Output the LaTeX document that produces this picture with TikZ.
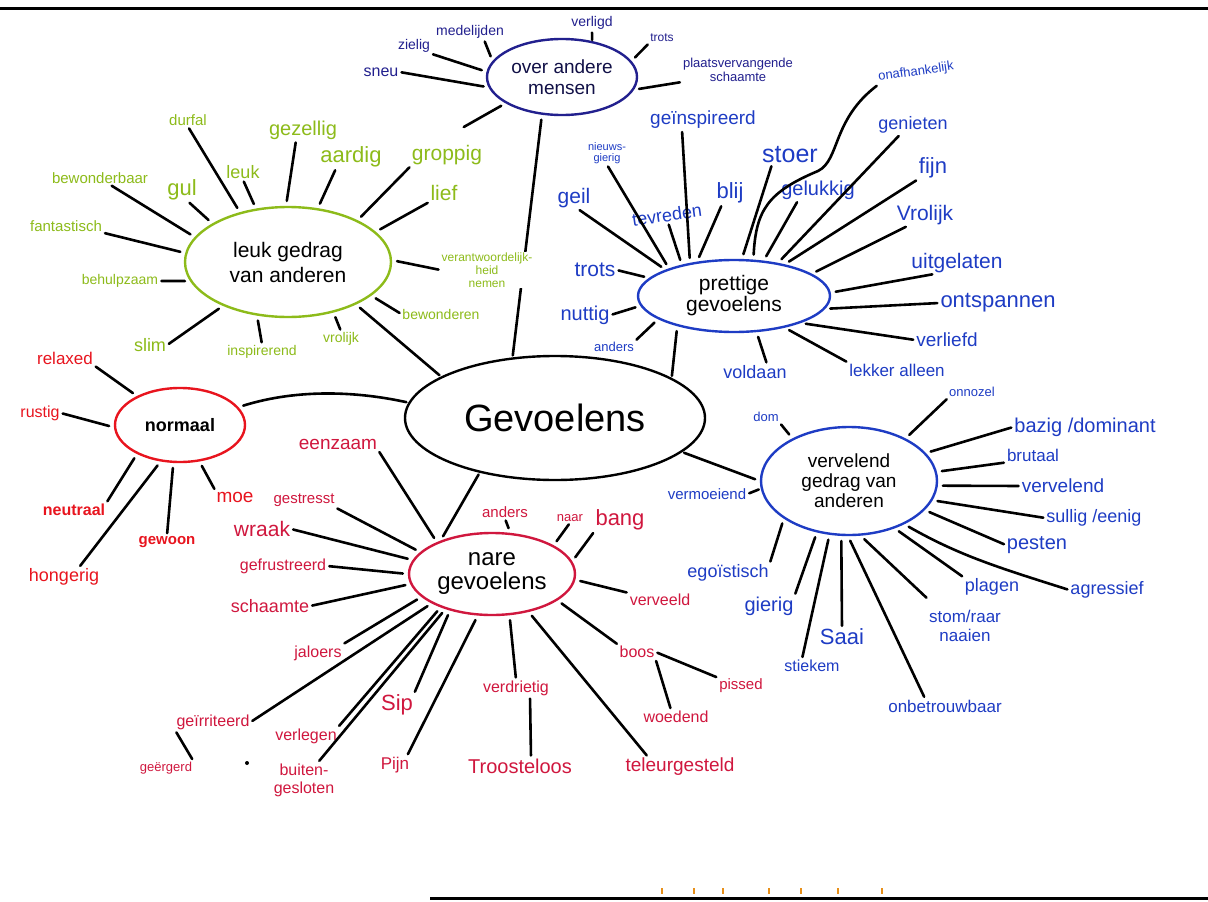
\documentclass[tikz,border=0pt]{standalone}
\usepackage{fontspec}
\setmainfont{Liberation Sans}
\usetikzlibrary{shapes.geometric}
\definecolor{cgreen}{HTML}{8DBB1A}
\definecolor{cnavy}{HTML}{22208E}
\definecolor{cblue}{HTML}{1E3CC4}
\definecolor{cred}{HTML}{E8141E}
\definecolor{ccrim}{HTML}{D0173E}
\definecolor{ctick}{HTML}{E8901A}
\pgfdeclarelayer{bg}
\pgfsetlayers{bg,main}
\tikzset{
  hub/.style={ellipse, draw, line width=2.4pt, inner sep=0pt, align=center, text=black},
  spoke/.style={line width=2.6pt, line cap=round, shorten <=5pt, shorten >=2pt},
  lab/.style={inner sep=1pt, align=center},
  sz/.style={font=\fontsize{#1}{#1}\selectfont},
  bsz/.style={font=\bfseries\fontsize{#1}{#1}\selectfont},
  cN/.style={lab, text=cnavy},
  cG/.style={lab, text=cgreen},
  cB/.style={lab, text=cblue},
  cR/.style={lab, text=cred},
  cC/.style={lab, text=ccrim},
}
\begin{document}
\begin{tikzpicture}[x=1pt,y=-1pt]
\begin{pgfonlayer}{bg}
\fill[white] (0,0) rectangle (1208,902);
\end{pgfonlayer}
\useasboundingbox (0,0) rectangle (1208,902);

% paper edges
\draw[line width=3pt] (0,8) -- (1208,8);
\draw[line width=3pt] (430,898) -- (1208,898);
\foreach \x in {662,694,723,769,801,838,882} \draw[ctick, line width=1.2pt] (\x,888) -- (\x,894);
\fill (247,763) circle (2pt);

% hubs
\node[hub, minimum width=300, minimum height=124, font=\fontsize{38}{38}\selectfont] (G) at (555,418) {Gevoelens};
\node[hub, draw=cnavy, minimum width=150, minimum height=76, font=\fontsize{19}{19}\selectfont, text=cnavy!50!black] (OAM) at (562,77) {over andere\\[2pt]mensen};
\node[hub, draw=cgreen, minimum width=206, minimum height=110, font=\fontsize{21}{21}\selectfont] (LG) at (288,262) {leuk gedrag\\[4pt]van anderen};
\node[hub, draw=cblue, minimum width=192, minimum height=72, font=\fontsize{21}{21}\selectfont] (PG) at (734,296) {prettige\\[0pt]gevoelens};
\node[hub, draw=cred, minimum width=130, minimum height=74, font=\bfseries\fontsize{18}{18}\selectfont] (NO) at (180,425) {normaal};
\node[hub, draw=ccrim, minimum width=166, minimum height=82, font=\fontsize{24}{24}\selectfont] (NG) at (492,574) {nare\\[0pt]gevoelens};
\node[hub, draw=cblue, minimum width=176, minimum height=108, font=\fontsize{19}{19}\selectfont] (VG) at (849,481) {vervelend\\[1pt]gedrag van\\[1pt]anderen};

% ---- over andere mensen
\node[cN, sz=16] (sneu) at (381,72) {sneu};
\node[cN, sz=14] (zielig) at (414,46) {zielig};
\node[cN, sz=14] (medelijden) at (470,32) {medelijden};
\node[cN, sz=14] (verligd) at (592,23) {verligd};
\node[cN, sz=12] (trotsa) at (662,38) {trots};
\node[cN, sz=13] (pvs) at (738,70) {plaatsvervangende\\[1pt]schaamte};
\coordinate (oamfree) at (462,128);
\draw[spoke] (OAM.188) -- (sneu.east);
\draw[spoke] (OAM.176) -- (zielig.south east);
\draw[spoke] (OAM.167) -- ([xshift=14pt]medelijden.south);
\draw[spoke, shorten <=1pt] (OAM.50) -- (verligd.south);
\draw[spoke] (OAM.13) -- (trotsa.south west);
\draw[spoke] (OAM.-10) -- ([yshift=-12pt]pvs.west);
\draw[spoke] (OAM.205) -- (oamfree);
\begin{pgfonlayer}{bg}
\draw[spoke] (OAM.-118) -- (G.125);
\end{pgfonlayer}

% ---- leuk gedrag van anderen
\node[cG, sz=15] (durfal) at (188,120) {durfal};
\node[cG, sz=20] (gezellig) at (303,130) {gezellig};
\node[cG, sz=18] (leuk) at (243,172) {leuk};
\node[cG, sz=22] (aardig) at (351,157) {aardig};
\node[cG, sz=21] (grappig) at (447,155) {groppig};
\node[cG, sz=21] (lief) at (444,193) {lief};
\node[cG, sz=22] (gul) at (182,190) {gul};
\node[cG, sz=15] (bewonderbaar) at (100,178) {bewonderbaar};
\node[cG, sz=15] (fantastisch) at (66,226) {fantastisch};
\node[cG, sz=14] (behulpzaam) at (120,281) {behulpzaam};
\node[cG, sz=18] (slim) at (150,345) {slim};
\node[cG, sz=14] (inspirerend) at (262,352) {inspirerend};
\node[cG, sz=14] (vrolijka) at (341,339) {vrolijk};
\node[cG, sz=14] (bewonderen) at (441,314) {bewonderen};
\node[cG, sz=12, fill=white] (verantw) at (487,270) {verantwoordelijk-\\[1pt]heid\\[1pt]nemen};
\draw[spoke] (LG.134) -- (durfal.south);
\draw[spoke] (LG.92) -- ([xshift=-7pt]gezellig.south);
\draw[spoke] (LG.121) -- (leuk.south);
\draw[spoke] (LG.61) -- ([xshift=-15pt]aardig.south);
\draw[spoke] (LG.31) -- (grappig.south west);
\draw[spoke] (LG.19) -- (lief.south west);
\draw[spoke] (LG.153) -- ([xshift=6pt]gul.south);
\draw[spoke] (LG.165) -- ([xshift=10pt]bewonderbaar.south);
\draw[spoke] (LG.175) -- (fantastisch.south east);
\draw[spoke] (LG.191) -- (behulpzaam.east);
\draw[spoke] (LG.214) -- (slim.east);
\draw[spoke] (LG.240) -- (inspirerend.north);
\draw[spoke] (LG.-48) -- (vrolijka.north);
\draw[spoke] (LG.-22) -- (bewonderen.west);
\draw[spoke] (LG.1.5) -- (verantw.west);
\draw[spoke] (LG.-32) -- (G.160);

% ---- normaal
\node[cR, sz=17] (relaxed) at (65,358) {relaxed};
\node[cR, sz=16] (rustig) at (40,413) {rustig};
\node[cR, bsz=16] (neutraal) at (74,510) {neutraal};
\node[cR, sz=18] (hongerig) at (64,577) {hongerig};
\node[cR, bsz=15] (gewoon) at (167,542) {gewoon};
\node[cR, sz=19] (moe) at (235,497) {moe};
\draw[spoke] (NO.146) -- (relaxed.south east);
\draw[spoke] (NO.182) -- (rustig.east);
\draw[spoke] (NO.214) -- (neutraal.north east);
\draw[spoke] (NO.242) -- ([xshift=15pt]hongerig.north);
\draw[spoke] (NO.260) -- (gewoon.north);
\draw[spoke] (NO.298) -- (moe.north west);
\draw[spoke] (NO.17) .. controls (300,388) and (360,392) .. (G.174);

% ---- nare gevoelens
\node[cC, sz=19] (eenzaam) at (338,444) {eenzaam};
\node[cC, sz=15] (gestresst) at (304,500) {gestresst};
\node[cC, sz=21] (wraak) at (262,529) {wraak};
\node[cC, sz=16] (gefrustreerd) at (283,566) {gefrustreerd};
\node[cC, sz=18] (schaamte) at (270,606) {schaamte};
\node[cC, sz=16] (jaloers) at (318,653) {jaloers};
\node[cC, sz=16] (geirriteerd) at (213,722) {geïrriteerd};
\node[cC, sz=13] (geergerd) at (166,768) {geërgerd};
\node[cC, sz=16] (verlegen) at (306,736) {verlegen};
\node[cC, sz=16] (buiten) at (304,780) {buiten-\\[2pt]gesloten};
\node[cC, sz=22] (sip) at (397,705) {Sip};
\node[cC, sz=17] (pijn) at (395,765) {Pijn};
\node[cC, sz=16] (verdrietig) at (516,688) {verdrietig};
\node[cC, sz=20] (troosteloos) at (520,766) {Troosteloos};
\node[cC, sz=19] (teleurgesteld) at (680,767) {teleurgesteld};
\node[cC, sz=16] (boos) at (637,652) {boos};
\node[cC, sz=15] (pissed) at (741,686) {pissed};
\node[cC, sz=16] (woedend) at (676,717) {woedend};
\node[cC, sz=16] (verveeld) at (660,600) {verveeld};
\node[cC, sz=22] (bang) at (620,520) {bang};
\node[cC, sz=15] (andersb) at (505,512) {anders};
\node[cC, sz=13] (naar) at (570,518) {naar};
\draw[spoke] (NG.150) -- (eenzaam.south east);
\draw[spoke] (NG.163) -- (gestresst.south east);
\draw[spoke] (NG.170) -- (wraak.east);
\draw[spoke] (NG.180) -- (gefrustreerd.east);
\draw[spoke] (NG.187) -- (schaamte.east);
\draw[spoke] (NG.198) -- (jaloers.north east);
\draw[spoke] (NG.206) -- (geirriteerd.east);
\draw[spoke] (NG.213) -- (verlegen.north east);
\draw[spoke] (NG.217) -- ([xshift=14pt]buiten.north);
\draw[spoke] (NG.221) -- (sip.north east);
\draw[spoke] (NG.251) -- ([xshift=12pt]pijn.north);
\draw[spoke] (NG.293) -- (verdrietig.north);
\draw[spoke] (NG.314) -- ([xshift=-32pt]teleurgesteld.north);
\draw[spoke] (NG.338) -- (boos.north west);
\draw[spoke] (NG.-4) -- (verveeld.north west);
\draw[spoke] (NG.9) -- (bang.south west);
\draw[spoke] (NG.25) -- (naar.south);
\draw[spoke] (NG.66) -- (andersb.south);
\draw[spoke] (NG.147) -- (G.216);
\draw[spoke, shorten <=2pt] ([xshift=14pt]verdrietig.south) -- ([xshift=11pt]troosteloos.north);
\draw[spoke, shorten <=2pt] (boos.east) -- (pissed.north west);
\draw[spoke, shorten <=2pt] (boos.south east) -- ([xshift=-5pt]woedend.north);
\draw[spoke, shorten <=2pt] (geirriteerd.south west) -- (geergerd.north east);

% ---- prettige gevoelens
\node[cB, sz=19] (ginsp) at (703,120) {geïnspireerd};
\node[cB, sz=11] (nieuwsg) at (607,153) {nieuws-\\gierig};
\node[cB, sz=21] (geil) at (574,198) {geil};
\node[cB, sz=18, rotate=8] (tevreden) at (667,215) {tevreden};
\node[cB, sz=22] (blij) at (730,193) {blij};
\node[cB, sz=25] (stoer) at (790,155) {stoer};
\node[cB, sz=13, rotate=8] (onafh) at (916,72) {onafhankelijk};
\node[cB, sz=20] (gelukkig) at (818,190) {gelukkig};
\node[cB, sz=18] (genieten) at (913,125) {genieten};
\node[cB, sz=22] (fijn) at (933,168) {fijn};
\node[cB, sz=21] (vrolijkb) at (925,215) {Vrolijk};
\node[cB, sz=21] (uitgelaten) at (957,263) {uitgelaten};
\node[cB, sz=22] (ontspannen) at (998,303) {ontspannen};
\node[cB, sz=19] (verliefd) at (947,340) {verliefd};
\node[cB, sz=17] (lekker) at (897,370) {lekker alleen};
\node[cB, sz=18] (voldaan) at (755,372) {voldaan};
\node[cB, sz=21] (trotsb) at (595,270) {trots};
\node[cB, sz=20] (nuttig) at (585,315) {nuttig};
\node[cB, sz=13] (andersa) at (614,347) {anders};
\coordinate (onk) at (818,171);
\draw[spoke] (PG.143) -- ([xshift=-21pt]ginsp.south);
\draw[spoke] (PG.157) -- (nieuwsg.south);
\draw[spoke] (PG.159) -- ([xshift=4pt]geil.south);
\draw[spoke] (PG.149) -- (tevreden.south);
\draw[spoke] (PG.137) -- ([xshift=-8pt]blij.south);
\draw[spoke] (PG.78) -- ([xshift=-18pt]stoer.south);
\draw[spoke] (PG.62) .. controls (756,210) and (768,192) .. (onk) .. controls (840,160) and (832,120) .. (onafh.south west);
\draw[spoke] (PG.50) -- ([xshift=-20pt]gelukkig.south);
\draw[spoke] (PG.37) -- ([xshift=-13pt]genieten.south);
\draw[spoke] (PG.32) -- (fijn.south west);
\draw[spoke] (PG.16) -- ([xshift=12pt]vrolijkb.south west);
\draw[spoke] (PG.2) -- ([xshift=24pt]uitgelaten.south west);
\draw[spoke] (PG.-8) -- (ontspannen.west);
\draw[spoke] (PG.-22) -- (verliefd.west);
\draw[spoke] (PG.-32) -- (lekker.north west);
\draw[spoke] (PG.-58) -- ([xshift=12pt]voldaan.north);
\draw[spoke] (PG.168) -- (trotsb.east);
\draw[spoke] (PG.186) -- (nuttig.east);
\draw[spoke] (PG.197) -- (andersa.north east);
\draw[spoke] (PG.208) -- (G.19);

% ---- vervelend gedrag van anderen
\node[cB, sz=13] (dom) at (766,417) {dom};
\node[cB, sz=13] (onnozel) at (972,392) {onnozel};
\node[cB, sz=20] (bazig) at (1085,427) {bazig /dominant};
\node[cB, sz=17] (brutaal) at (1033,455) {brutaal};
\node[cB, sz=19] (vervelend) at (1063,486) {vervelend};
\node[cB, sz=18] (sullig) at (1094,518) {sullig /eenig};
\node[cB, sz=20] (pesten) at (1037,545) {pesten};
\node[cB, sz=18] (agressief) at (1107,590) {agressief};
\node[cB, sz=18] (plagen) at (992,587) {plagen};
\node[cB, sz=17] (stomraar) at (965,626) {stom/raar\\[2pt]naaien};
\node[cB, sz=17] (onbetr) at (945,706) {onbetrouwbaar};
\node[cB, sz=22] (saai) at (842,637) {Saai};
\node[cB, sz=16] (stiekem) at (812,666) {stiekem};
\node[cB, sz=20] (gierig) at (769,606) {gierig};
\node[cB, sz=18] (egoistisch) at (728,573) {egoïstisch};
\node[cB, sz=15] (vermoeiend) at (707,494) {vermoeiend};
\draw[spoke] (VG.143) -- (dom.south east);
\draw[spoke] (VG.37) -- (onnozel.south west);
\draw[spoke] (VG.20) -- (bazig.west);
\draw[spoke] (VG.6) -- (brutaal.south west);
\draw[spoke] (VG.-3) -- (vervelend.west);
\draw[spoke] (VG.-13) -- (sullig.west);
\draw[spoke] (VG.-21) -- (pesten.west);
\draw[spoke] (VG.-38) .. controls (960,556) and (1000,568) .. (agressief.west);
\draw[spoke] (VG.-46) -- (plagen.north west);
\draw[spoke] (VG.-78) -- ([yshift=10pt]stomraar.north west);
\draw[spoke] (VG.-91) -- ([xshift=-20pt]onbetr.north);
\draw[spoke] (VG.262) -- (saai.north);
\draw[spoke] (VG.250) -- ([xshift=-10pt]stiekem.north);
\draw[spoke] (VG.238) -- (gierig.north east);
\draw[spoke] (VG.210) -- (egoistisch.north east);
\draw[spoke, shorten <=2pt] (VG.185) -- (vermoeiend.east);
\draw[spoke] (VG.180) -- (G.-15);
\end{tikzpicture}
\end{document}
